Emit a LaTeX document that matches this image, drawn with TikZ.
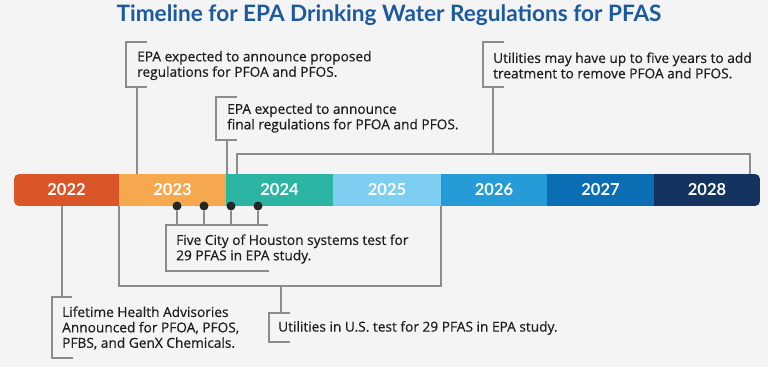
\documentclass[tikz,border=0pt]{standalone}
\usepackage{fontspec}
\setmainfont{Lato}
\newfontfamily\notefont[FakeBold=0.5]{Open Sans}
\definecolor{bg}{HTML}{F4F4F4}
\definecolor{titleblue}{HTML}{1C5A9D}
\definecolor{txt}{HTML}{1E1E1E}
\definecolor{ln}{HTML}{8C8C8C}
\definecolor{cA}{HTML}{DA5527}
\definecolor{cB}{HTML}{F6A84E}
\definecolor{cC}{HTML}{2DB5A3}
\definecolor{cD}{HTML}{7DCEF1}
\definecolor{cE}{HTML}{259BD7}
\definecolor{cF}{HTML}{0B6EB4}
\definecolor{cG}{HTML}{15335F}
\begin{document}
\begin{tikzpicture}[x=1pt,y=-1pt,
  seg/.style={draw=none,minimum height=32pt,inner sep=0pt,text=white,font=\fontsize{16.5}{18}\selectfont\bfseries},
  note/.style={anchor=west,align=left,inner sep=0pt,text=txt,font=\notefont\fontsize{13.7}{15.4}\selectfont},
  conn/.style={draw=ln,line width=1.3pt},
  dotc/.style={circle,fill=black!85,inner sep=0pt,minimum size=9pt}]
\fill[bg] (0,0) rectangle (768,367);
\useasboundingbox (0,0) rectangle (768,367);
% title
\node[anchor=base,text=titleblue,font=\fontsize{22.6}{25}\selectfont\bfseries] (title) at (389,21.5) {Timeline for EPA Drinking Water Regulations for PFAS};
% bar
\begin{scope}
\clip[rounded corners=5pt] (14,174) rectangle (760,206);
\node[seg,fill=cA,minimum width=105pt] (y2022) at (66.5,190) {2022};
\node[seg,fill=cB,minimum width=107pt] (y2023) at (172.5,190) {2023};
\node[seg,fill=cC,minimum width=107pt] (y2024) at (279.5,190) {2024};
\node[seg,fill=cD,minimum width=108pt] (y2025) at (387,190) {2025};
\node[seg,fill=cE,minimum width=106pt] (y2026) at (494,190) {2026};
\node[seg,fill=cF,minimum width=107pt] (y2027) at (600.5,190) {2027};
\node[seg,fill=cG,minimum width=106pt] (y2028) at (707,190) {2028};
\end{scope}
% notes
\node[note] (proposed) at (137,65.5) {EPA expected to announce proposed\\regulations for PFOA and PFOS.};
\node[note] (final) at (227,118) {EPA expected to announce\\final regulations for PFOA and PFOS.};
\node[note] (fiveyears) at (493,65.5) {Utilities may have up to five years to add\\treatment to remove PFOA and PFOS.};
\node[note] (houston) at (176,249) {Five City of Houston systems test for\\29 PFAS in EPA study.};
\node[note] (lifetime) at (62,328) {Lifetime Health Advisories\\Announced for PFOA, PFOS,\\PFBS, and GenX Chemicals.};
\node[note] (usutil) at (278,328) {Utilities in U.S. test for 29 PFAS in EPA study.};
% coordinates
\coordinate (lt) at (62,206);
\coordinate (ltb) at (62,297);
\coordinate (pr) at (137,174);
\coordinate (prb) at (137,87);
\coordinate (fi) at (227,174);
\coordinate (fib) at (227,140);
\coordinate (fyA) at (237,174);
\coordinate (fyB) at (750,174);
\coordinate (fyM) at (493,154);
\coordinate (fyb) at (493,87);
\coordinate (usA) at (119,206);
\coordinate (usB) at (441,206);
\coordinate (usM) at (281,286);
\coordinate (usb) at (281,313);
% brackets
\draw[conn] (72,297) -- (52,297) -- (52,358) -- (73,358);
\draw[conn] (147,42) -- (126,42) -- (126,87) -- (147,87);
\draw[conn] (237,97) -- (216,97) -- (216,140) -- (237,140);
\draw[conn] (504,42) -- (483,42) -- (483,87) -- (504,87);
\draw[conn] (268,225) -- (166,225) -- (166,271) -- (269,271);
\draw[conn] (290,313) -- (269,313) -- (269,342) -- (290,342);
% connectors
\draw[conn] (lt) -- (ltb);
\draw[conn] (pr) -- (prb);
\draw[conn] (fi) -- (fib);
\draw[conn] (fyA) |- (fyM) -| (fyB);
\draw[conn] (fyM) -- (fyb);
\draw[conn] (usA) |- (usM) -| (usB);
\draw[conn] (usM) -- (usb);
% dots
\foreach \i/\x in {1/177,2/204,3/231,4/258}{
  \node[dotc] (d\i) at (\x,206) {};
  \draw[conn] (d\i) -- (\x,225);
}
\end{tikzpicture}
\end{document}
